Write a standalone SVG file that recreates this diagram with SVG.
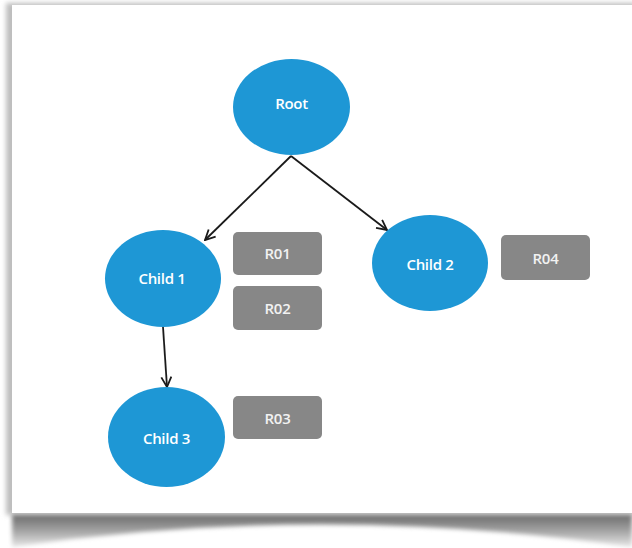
<svg xmlns="http://www.w3.org/2000/svg" width="632" height="548" viewBox="0 0 632 548">
<defs>
<style>
.node{fill:#1e97d5}
.nt{fill:#fff;font-family:"Open Sans","Noto Sans",sans-serif;font-weight:600;font-size:15px;letter-spacing:-0.3px;text-anchor:middle;dominant-baseline:central}
.tag{fill:#878787}
.tt{fill:#f2f2f2;font-family:"Open Sans","Noto Sans",sans-serif;font-weight:600;font-size:15px;letter-spacing:-0.3px;text-anchor:middle;dominant-baseline:central}
.edge{stroke:#1a1a1a;stroke-width:1.8;fill:none}
</style>
<marker id="ah" viewBox="0 0 12 12" refX="11" refY="6" markerWidth="12" markerHeight="12" markerUnits="userSpaceOnUse" orient="auto">
<path d="M1,1 L11,6 L1,11" fill="none" stroke="#1a1a1a" stroke-width="1.8"/>
</marker>
<linearGradient id="sg" x1="0" y1="0" x2="0" y2="1">
<stop offset="0" stop-color="#666"/>
<stop offset="0.5" stop-color="#a0a0a0"/>
<stop offset="1" stop-color="#e8e8e8"/>
</linearGradient>
<filter id="blur" x="-5%" y="-50%" width="110%" height="200%"><feGaussianBlur stdDeviation="2"/></filter>
<filter id="blur2" x="-10%" y="-10%" width="120%" height="120%"><feGaussianBlur stdDeviation="2.5"/></filter>
</defs>
<rect width="632" height="548" fill="#fff"/>
<path d="M12,513 L632,513 L632,547 Q320,502 12,547 Z" fill="url(#sg)" filter="url(#blur)"/>
<rect x="6" y="3" width="630" height="512" fill="#bdbdbd" filter="url(#blur2)"/>
<rect x="12" y="5" width="625" height="508" fill="#fff"/>
<g id="connectors">
<line class="edge" x1="291" y1="156" x2="205" y2="240" marker-end="url(#ah)"/>
<line class="edge" x1="291" y1="156" x2="387" y2="230" marker-end="url(#ah)"/>
<line class="edge" x1="163" y1="327" x2="167" y2="387" marker-end="url(#ah)"/>
</g>
<g id="root"><ellipse class="node" cx="291.5" cy="107" rx="58.5" ry="48"/><text class="nt" x="291.5" y="103">Root</text></g>
<g id="child1"><ellipse class="node" cx="163" cy="278.5" rx="58" ry="48.5"/><text class="nt" x="162" y="278">Child 1</text></g>
<g id="child2"><ellipse class="node" cx="430" cy="263" rx="58" ry="48"/><text class="nt" x="430" y="264">Child 2</text></g>
<g id="child3"><ellipse class="node" cx="166.5" cy="437" rx="58.5" ry="50"/><text class="nt" x="166.5" y="438">Child 3</text></g>
<g id="r01"><rect class="tag" x="233" y="232" width="89" height="43" rx="5"/><text class="tt" x="277.5" y="253">R01</text></g>
<g id="r02"><rect class="tag" x="233" y="286" width="89" height="44" rx="5"/><text class="tt" x="277.5" y="308">R02</text></g>
<g id="r03"><rect class="tag" x="233" y="396" width="89" height="43" rx="5"/><text class="tt" x="277.5" y="418">R03</text></g>
<g id="r04"><rect class="tag" x="501" y="235" width="89" height="45" rx="5"/><text class="tt" x="545.5" y="258">R04</text></g>
</svg>
